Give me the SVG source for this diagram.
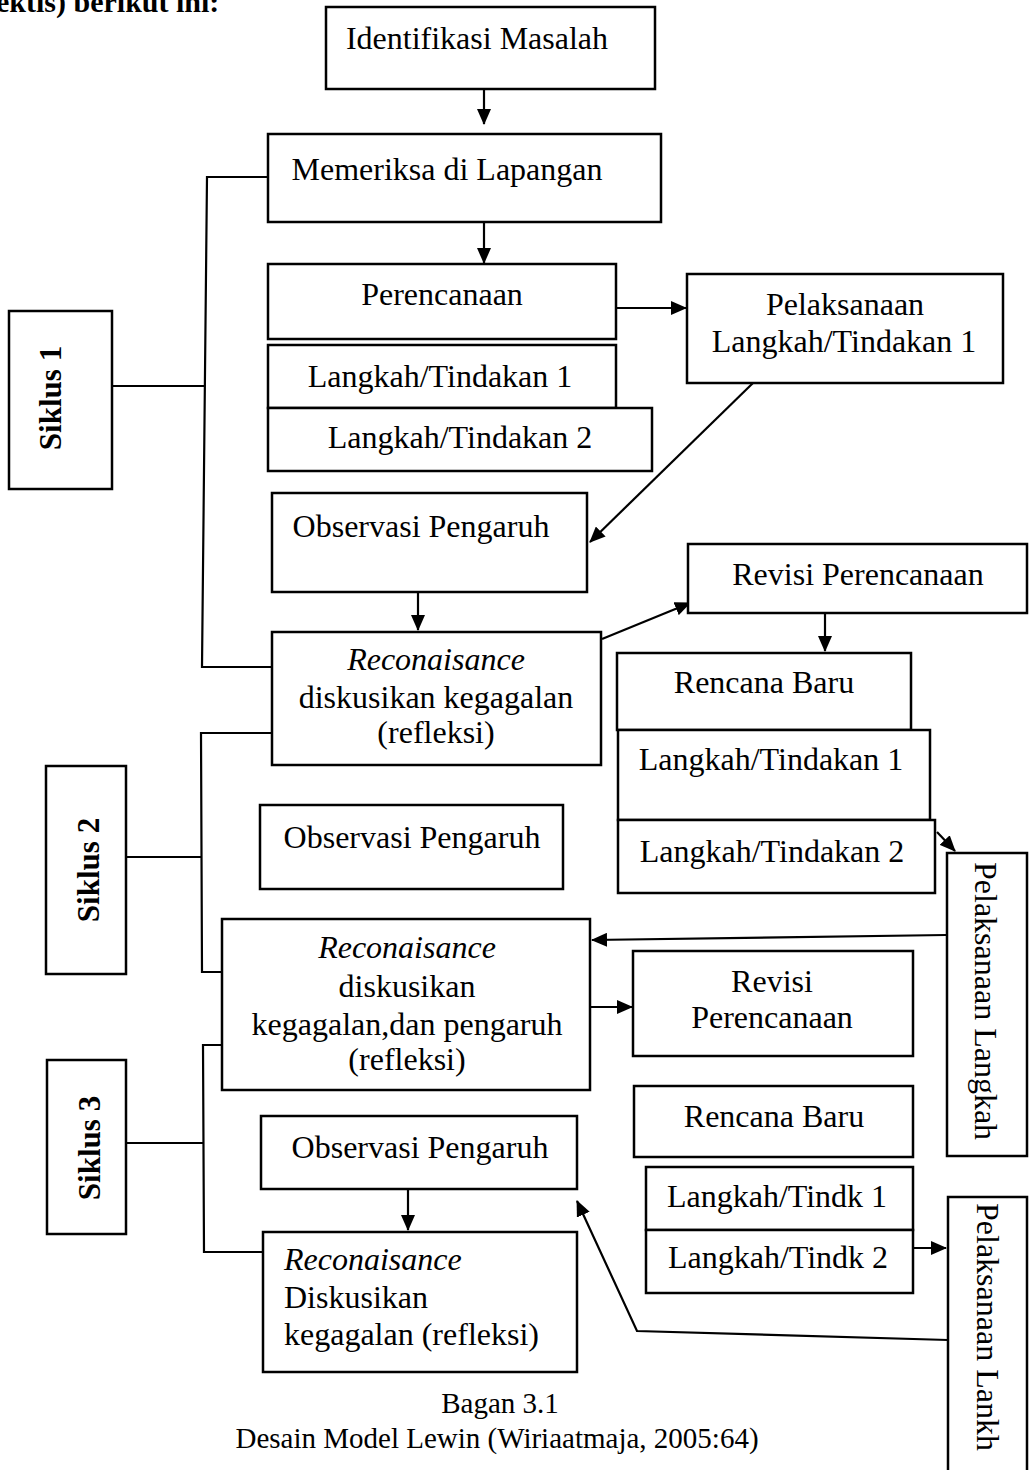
<svg xmlns="http://www.w3.org/2000/svg" width="1029" height="1470" viewBox="0 0 1029 1470">
<style>
.box{fill:#fff;stroke:#000;stroke-width:2.5}
.t{font-family:"Liberation Serif","Times New Roman",serif;font-size:32px;fill:#000}
.c{text-anchor:middle}
.b{font-weight:bold}
.i{font-style:italic}
.ln{fill:none;stroke:#000;stroke-width:2.2}
</style>
<defs>
<marker id="ah" markerUnits="userSpaceOnUse" markerWidth="16" markerHeight="14" refX="15" refY="7" orient="auto">
<path d="M0,0 L16,7 L0,14 Z" fill="#000"/>
</marker>
</defs>
<rect width="1029" height="1470" fill="#fff"/>
<text class="t b" x="-4" y="12" style="font-size:30px">ektis) berikut ini:</text>

<g id="connectors">
<line class="ln" x1="484" y1="89" x2="484" y2="124" marker-end="url(#ah)"/>
<line class="ln" x1="484" y1="222" x2="484" y2="263" marker-end="url(#ah)"/>
<line class="ln" x1="616" y1="308" x2="686" y2="308" marker-end="url(#ah)"/>
<line class="ln" x1="753" y1="383" x2="590" y2="542" marker-end="url(#ah)"/>
<line class="ln" x1="418" y1="592" x2="418" y2="630" marker-end="url(#ah)"/>
<line class="ln" x1="602" y1="639" x2="690" y2="603" marker-end="url(#ah)"/>
<line class="ln" x1="825" y1="613" x2="825" y2="651" marker-end="url(#ah)"/>
<line class="ln" x1="937" y1="832" x2="955" y2="851" marker-end="url(#ah)"/>
<line class="ln" x1="946" y1="935" x2="592" y2="940" marker-end="url(#ah)"/>
<line class="ln" x1="590" y1="1007" x2="632" y2="1007" marker-end="url(#ah)"/>
<line class="ln" x1="913" y1="1248" x2="946" y2="1248" marker-end="url(#ah)"/>
<polyline class="ln" points="948,1340 637,1331 577,1201" marker-end="url(#ah)"/>
<line class="ln" x1="408" y1="1189" x2="408" y2="1230" marker-end="url(#ah)"/>
<polyline class="ln" points="268,177 207,177 202,667 272,667"/>
<line class="ln" x1="112" y1="386" x2="204" y2="386"/>
<polyline class="ln" points="272,733 201,733 202,972 222,972"/>
<line class="ln" x1="126" y1="857" x2="201" y2="857"/>
<polyline class="ln" points="222,1045 203,1045 204,1252 262,1252"/>
<line class="ln" x1="126" y1="1143" x2="203" y2="1143"/>
</g>

<g id="identifikasi"><rect class="box" x="326" y="7" width="329" height="82"/><text class="t c" x="477" y="49">Identifikasi Masalah</text></g>
<g id="memeriksa"><rect class="box" x="268" y="134" width="393" height="88"/><text class="t c" x="447" y="180">Memeriksa di Lapangan</text></g>
<g id="perencanaan"><rect class="box" x="268" y="264" width="348" height="75"/><text class="t c" x="442" y="305">Perencanaan</text></g>
<g id="langkah1a"><rect class="box" x="268" y="345" width="348" height="63"/><text class="t c" x="440" y="387">Langkah/Tindakan 1</text></g>
<g id="langkah2a"><rect class="box" x="268" y="408" width="384" height="63"/><text class="t c" x="460" y="448">Langkah/Tindakan 2</text></g>
<g id="pelaksanaan1"><rect class="box" x="687" y="274" width="316" height="109"/><text class="t c" x="845" y="315">Pelaksanaan</text><text class="t c" x="844" y="352">Langkah/Tindakan 1</text></g>
<g id="observasi1"><rect class="box" x="272" y="493" width="315" height="99"/><text class="t c" x="421" y="537">Observasi Pengaruh</text></g>
<g id="reconaisance1"><rect class="box" x="272" y="632" width="329" height="133"/><text class="t c i" x="436" y="670">Reconaisance</text><text class="t c" x="436" y="708">diskusikan kegagalan</text><text class="t c" x="436" y="743">(refleksi)</text></g>
<g id="revisi1"><rect class="box" x="688" y="544" width="339" height="69"/><text class="t c" x="858" y="585">Revisi Perencanaan</text></g>
<g id="rencana1"><rect class="box" x="617" y="653" width="294" height="77"/><text class="t c" x="764" y="693">Rencana Baru</text></g>
<g id="langkah1b"><rect class="box" x="618" y="730" width="312" height="90"/><text class="t c" x="771" y="770">Langkah/Tindakan 1</text></g>
<g id="langkah2b"><rect class="box" x="618" y="820" width="317" height="73"/><text class="t c" x="772" y="862">Langkah/Tindakan 2</text></g>
<g id="pelaksanaanLangkah"><rect class="box" x="947" y="853" width="80" height="303"/><text class="t" transform="translate(975,862) rotate(90)">Pelaksanaan Langkah</text></g>
<g id="siklus1"><rect class="box" x="9" y="311" width="103" height="178"/><text class="t c b" style="font-size:31px" transform="translate(61,398) rotate(-90)">Siklus 1</text></g>
<g id="siklus2"><rect class="box" x="46" y="766" width="80" height="208"/><text class="t c b" style="font-size:31px" transform="translate(99,870) rotate(-90)">Siklus 2</text></g>
<g id="siklus3"><rect class="box" x="47" y="1060" width="79" height="174"/><text class="t c b" style="font-size:31px" transform="translate(100,1148) rotate(-90)">Siklus 3</text></g>
<g id="observasi2"><rect class="box" x="260" y="805" width="303" height="84"/><text class="t c" x="412" y="848">Observasi Pengaruh</text></g>
<g id="reconaisance2"><rect class="box" x="222" y="919" width="368" height="171"/><text class="t c i" x="407" y="958">Reconaisance</text><text class="t c" x="407" y="997">diskusikan</text><text class="t c" x="407" y="1035">kegagalan,dan pengaruh</text><text class="t c" x="407" y="1070">(refleksi)</text></g>
<g id="revisi2"><rect class="box" x="633" y="951" width="280" height="105"/><text class="t c" x="772" y="992">Revisi</text><text class="t c" x="772" y="1028">Perencanaan</text></g>
<g id="rencana2"><rect class="box" x="634" y="1086" width="279" height="71"/><text class="t c" x="774" y="1127">Rencana Baru</text></g>
<g id="langkahTindk1"><rect class="box" x="646" y="1167" width="267" height="63"/><text class="t c" x="777" y="1207">Langkah/Tindk 1</text></g>
<g id="langkahTindk2"><rect class="box" x="646" y="1230" width="267" height="63"/><text class="t c" x="778" y="1268">Langkah/Tindk 2</text></g>
<g id="pelaksanaanLankh"><rect class="box" x="948" y="1197" width="79" height="290"/><text class="t" transform="translate(977,1203) rotate(90)">Pelaksanaan Lankh</text></g>
<g id="observasi3"><rect class="box" x="261" y="1116" width="316" height="73"/><text class="t c" x="420" y="1158">Observasi Pengaruh</text></g>
<g id="reconaisance3"><rect class="box" x="263" y="1232" width="314" height="140"/><text class="t i" x="284" y="1270">Reconaisance</text><text class="t" x="284" y="1308">Diskusikan</text><text class="t" x="284" y="1345">kegagalan (refleksi)</text></g>
<g id="caption"><text class="t c" x="500" y="1413" style="font-size:29px">Bagan 3.1</text><text class="t c" x="497" y="1448" style="font-size:29px">Desain Model Lewin (Wiriaatmaja, 2005:64)</text></g>
</svg>
